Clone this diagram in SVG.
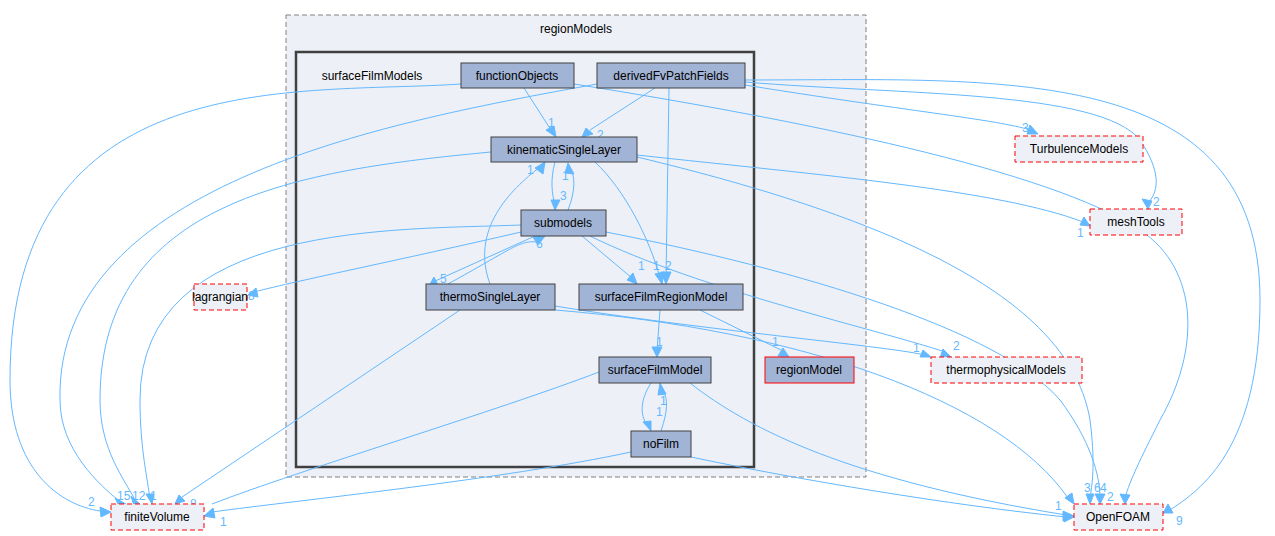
<svg xmlns="http://www.w3.org/2000/svg" width="1275" height="536" viewBox="0 0 1275 536">
<style>
text{font-family:"Liberation Sans",Arial,sans-serif;font-size:12px;fill:#000}
.n rect{fill:#a2b4d6;stroke:#404040;stroke-width:1}
.x rect{fill:#edf0f7;stroke:#ff0000;stroke-dasharray:5,3;stroke-width:1}
.e path{fill:none;stroke:#63b8ff;stroke-width:1}
.e polygon{fill:#63b8ff;stroke:#63b8ff}
.l text{fill:#63b8ff;font-size:12px}
</style>
<rect width="1275" height="536" fill="#fff"/>
<g id="regionModels"><rect x="286" y="15" width="580" height="462" fill="#edf0f7" stroke="#808080" stroke-dasharray="5,3"/><text x="576" y="33" text-anchor="middle">regionModels</text></g>
<g id="surfaceFilmModels"><rect x="296" y="52" width="458" height="415" fill="#edf0f7" stroke="#404040" stroke-width="2.5"/><text x="372" y="80" text-anchor="middle">surfaceFilmModels</text></g>
<g class="e" id="edges">
<path d="M461,84 C300,95 10,60 10,380 C10,470 60,505 100,511"/>
<path d="M597,84 C400,120 55,180 60,400 C60,450 100,485 118,500"/>
<path d="M491,152 C300,170 100,200 100,400 C100,450 125,480 135,500"/>
<path d="M521,225 C400,230 140,220 140,400 C140,450 148,480 150,500"/>
<path d="M460,310 L182,497"/>
<path d="M599,372 C500,410 300,470 212,504"/>
<path d="M631,452 C500,480 300,500 212,512"/>
<path d="M524,88 L551,130"/>
<path d="M655,88 L590,130"/>
<path d="M669,88 L666,278"/>
<path d="M574,84 C800,120 1050,170 1140,230 C1200,270 1200,350 1160,420 C1140,460 1130,480 1125,498"/>
<path d="M745,85 C900,110 1000,120 1030,130"/>
<path d="M745,82 C900,95 1100,90 1140,140 C1160,170 1160,190 1148,203"/>
<path d="M745,80 C1000,80 1260,60 1260,300 C1260,450 1200,490 1170,510"/>
<path d="M555,162 C550,180 552,195 555,204"/>
<path d="M568,210 C576,190 575,175 570,168"/>
<path d="M595,162 C625,190 650,240 660,278"/>
<path d="M637,155 C820,175 1000,190 1083,222"/>
<path d="M637,157 C900,220 1070,300 1090,420 C1095,460 1093,480 1090,498"/>
<path d="M582,236 L632,278"/>
<path d="M606,232 C800,270 1000,330 1060,400 C1090,440 1100,475 1100,498"/>
<path d="M590,236 C700,290 880,330 945,352"/>
<path d="M521,232 C400,260 300,280 254,292"/>
<path d="M535,236 L433,282"/>
<path d="M448,284 C510,250 520,240 536,242"/>
<path d="M490,284 C470,230 510,190 540,167"/>
<path d="M555,306 C700,330 880,345 925,355"/>
<path d="M555,310 C800,330 1000,400 1068,498"/>
<path d="M660,310 L657,351"/>
<path d="M700,310 L785,352"/>
<path d="M651,383 C640,400 640,415 647,425"/>
<path d="M661,431 C668,410 668,400 663,390"/>
<path d="M690,383 C750,430 850,480 1066,515"/>
<path d="M691,457 C800,480 950,505 1066,517"/>
<polygon points="111,512 100,507 101,517"/>
<polygon points="126,504 115,498 119,506"/>
<polygon points="140,504 131,496 134,506"/>
<polygon points="152,504 146,494 154,494"/>
<polygon points="175,504 179,495 185,501"/>
<polygon points="204,516 213,508 215,518"/>
<polygon points="556,137 546,130 554,126"/>
<polygon points="582,137 586,128 593,134"/>
<polygon points="666,284 661,272 671,272"/>
<polygon points="1125,504 1120,494 1130,495"/>
<polygon points="1038,134 1027,134 1030,125"/>
<polygon points="1148,209 1142,199 1152,201"/>
<polygon points="1163,513 1168,504 1173,513"/>
<polygon points="555,210 551,200 560,200"/>
<polygon points="568,163 574,174 565,173"/>
<polygon points="662,284 655,274 664,272"/>
<polygon points="1090,226 1080,225 1084,217"/>
<polygon points="1090,504 1086,494 1094,494"/>
<polygon points="637,284 627,280 633,273"/>
<polygon points="1100,504 1095,494 1105,494"/>
<polygon points="951,357 940,358 943,349"/>
<polygon points="248,295 256,288 258,297"/>
<polygon points="429,286 434,277 438,285"/>
<polygon points="545,236 538,245 533,237"/>
<polygon points="545,162 543,174 535,168"/>
<polygon points="931,357 920,357 923,350"/>
<polygon points="1074,504 1065,498 1072,493"/>
<polygon points="657,357 652,347 662,347"/>
<polygon points="789,357 778,356 783,348"/>
<polygon points="651,431 643,422 651,421"/>
<polygon points="660,383 666,394 658,395"/>
<polygon points="1074,516 1063,511 1063,521"/>
<polygon points="1074,517 1064,513 1064,522"/>
</g>
<g class="l">
<text x="88" y="506">2</text><text x="117" y="500">15</text><text x="132" y="500">12</text><text x="150" y="500">1</text>
<text x="190" y="508">8</text><text x="220" y="526">1</text>
<text x="548" y="127">1</text><text x="597" y="139">2</text><text x="638" y="270">1</text><text x="653" y="270">1</text><text x="665" y="270">2</text>
<text x="1022" y="132">3</text><text x="1153" y="206">2</text><text x="1176" y="525">9</text>
<text x="560" y="200">3</text><text x="562" y="180">1</text><text x="527" y="174">1</text>
<text x="1077" y="237">1</text><text x="1094" y="492">6</text><text x="1100" y="492">4</text><text x="1107" y="501">2</text>
<text x="953" y="350">2</text><text x="248" y="300">8</text><text x="440" y="283">5</text><text x="536" y="248">6</text>
<text x="913" y="352">1</text><text x="1084" y="492">3</text><text x="1055" y="510">1</text>
<text x="656" y="346">1</text><text x="772" y="346">1</text><text x="656" y="416">1</text><text x="660" y="405">1</text>
</g>
<g id="functionObjects" class="n"><rect x="461" y="63" width="113" height="25"/><text x="517" y="80" text-anchor="middle">functionObjects</text></g>
<g id="derivedFvPatchFields" class="n"><rect x="597" y="63" width="148" height="25"/><text x="671" y="80" text-anchor="middle">derivedFvPatchFields</text></g>
<g id="kinematicSingleLayer" class="n"><rect x="491" y="137" width="146" height="25"/><text x="564" y="154" text-anchor="middle">kinematicSingleLayer</text></g>
<g id="submodels" class="n"><rect x="521" y="210" width="85" height="26"/><text x="563" y="227" text-anchor="middle">submodels</text></g>
<g id="thermoSingleLayer" class="n"><rect x="426" y="284" width="129" height="26"/><text x="490" y="301" text-anchor="middle">thermoSingleLayer</text></g>
<g id="surfaceFilmRegionModel" class="n"><rect x="579" y="284" width="164" height="26"/><text x="661" y="301" text-anchor="middle">surfaceFilmRegionModel</text></g>
<g id="surfaceFilmModel" class="n"><rect x="599" y="357" width="112" height="26"/><text x="655" y="374" text-anchor="middle">surfaceFilmModel</text></g>
<g id="noFilm" class="n"><rect x="631" y="431" width="60" height="26"/><text x="661" y="448" text-anchor="middle">noFilm</text></g>
<g id="regionModel"><rect x="765" y="357" width="89" height="26" fill="#a2b4d6" stroke="#ff0000"/><text x="809" y="374" text-anchor="middle">regionModel</text></g>
<g id="TurbulenceModels" class="x"><rect x="1015" y="136" width="128" height="26"/><text x="1079" y="153" text-anchor="middle">TurbulenceModels</text></g>
<g id="meshTools" class="x"><rect x="1090" y="209" width="92" height="26"/><text x="1136" y="226" text-anchor="middle">meshTools</text></g>
<g id="lagrangian" class="x"><rect x="194" y="284" width="53" height="26"/><text x="220" y="301" text-anchor="middle">lagrangian</text></g>
<g id="thermophysicalModels" class="x"><rect x="931" y="357" width="151" height="26"/><text x="1006" y="374" text-anchor="middle">thermophysicalModels</text></g>
<g id="finiteVolume" class="x"><rect x="111" y="504" width="93" height="26"/><text x="157" y="521" text-anchor="middle">finiteVolume</text></g>
<g id="OpenFOAM" class="x"><rect x="1074" y="504" width="89" height="26"/><text x="1118" y="521" text-anchor="middle">OpenFOAM</text></g>
</svg>
